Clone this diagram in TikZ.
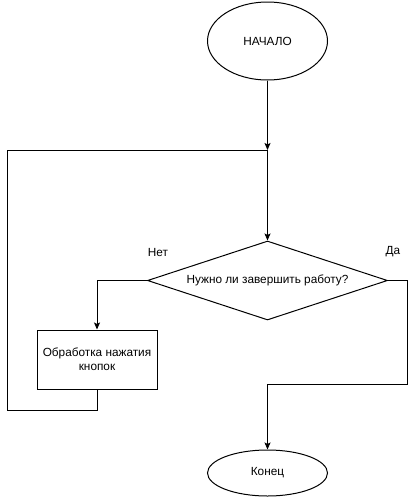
\documentclass[tikz,border=0pt]{standalone}
\usepackage{fontspec}
\setmainfont{Liberation Sans}
\usetikzlibrary{arrows.meta, shapes.geometric}
\tikzset{>={Stealth[length=7pt,width=6pt,inset=1.5pt]}}
\tikzset{term/.style = {shape=ellipse,draw,minimum width=120pt,minimum height=78pt,inner sep=0pt}}
\tikzset{test/.style = {shape=diamond,draw,aspect=3,minimum width=240pt,minimum height=79pt,inner sep=0pt}}
\tikzset{proc/.style = {shape=rectangle,draw,minimum width=120pt,minimum height=59pt,align=center,inner sep=2pt}}
\tikzset{edge/.style = {->}}

\begin{document}
\begin{tikzpicture}[x=1pt,y=-1pt,line width=1pt,font=\fontsize{11.8}{14}\selectfont]
                \useasboundingbox (0,0) rectangle (416,501);
                \node[term] (start) at (267.5,41) {НАЧАЛО};
                \coordinate (join) at (267.5,150);
                \node[test] (cond) at (267.5,280.5) {Нужно ли завершить работу?};
                \node[proc] (work) at (97,359.5) {Обработка нажатия\\кнопок};
                \coordinate (loopb) at (7,410);
                \coordinate (turn) at (407,384);
                \node[term,minimum height=46pt] (finish) at (267.5,473) {Конец};
                \node (no) at (158,252) {Нет};
                \node (yes) at (393,252) {Да};
                \draw[edge] (start) -- (join);
                \draw[edge] (work.south) |- (loopb) |- (join) -- (cond.north);
                \draw[edge] (cond.west) -| (work.north);
                \draw[edge] (cond.east) -| (turn) -| (finish.north);
            \end{tikzpicture}
\end{document}
